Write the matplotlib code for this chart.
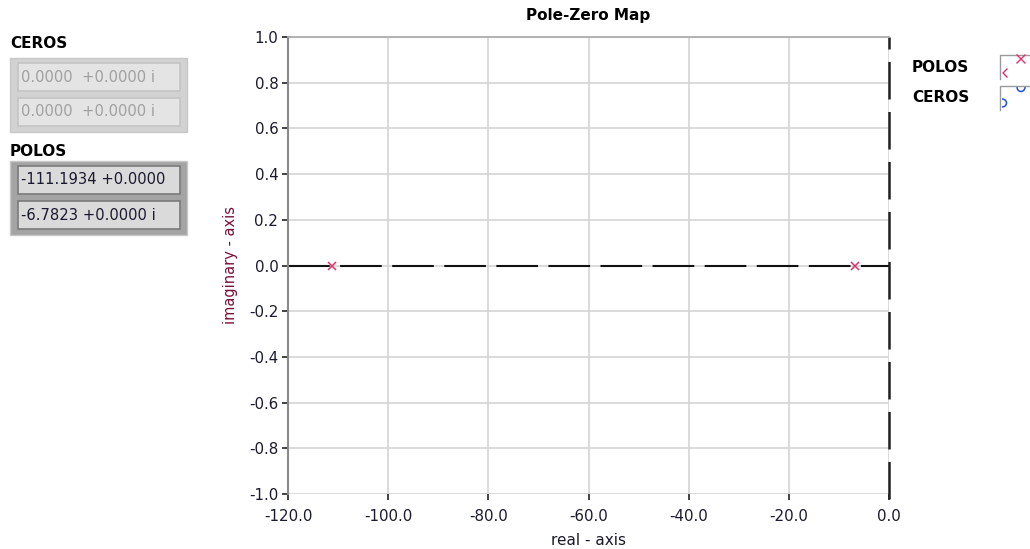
import matplotlib
matplotlib.use("Agg")
import matplotlib.pyplot as plt
from matplotlib.patches import Rectangle, Arc

# Pole / zero data
pole_real = [-111.1934, -6.7823]
pole_imag = [0.0, 0.0]
zero_real = []
zero_imag = []

pole_text = ["-111.1934 +0.0000", "-6.7823 +0.0000 i"]
zero_text = ["0.0000  +0.0000 i", "0.0000  +0.0000 i"]

x_ticks = [-120, -100, -80, -60, -40, -20, 0]
y_ticks = [-1.0, -0.8, -0.6, -0.4, -0.2, 0.0, 0.2, 0.4, 0.6, 0.8, 1.0]

W, H = 1030, 549
plt.rcParams["font.family"] = ["DejaVu Sans"]
fig = plt.figure(figsize=(W / 100, H / 100), dpi=100)
fig.patch.set_facecolor("white")


def fx(px):
    return px / W


def fy(py):
    return 1 - py / H


ax = fig.add_axes([fx(288), fy(494), fx(889) - fx(288), fy(37) - fy(494)])
ax.set_xlim(-120, 0)
ax.set_ylim(-1, 1)
ax.set_xticks(x_ticks)
ax.set_yticks(y_ticks)
ax.set_xticklabels([f"{v:.1f}" for v in x_ticks])
ax.set_yticklabels([f"{v:.1f}" for v in y_ticks])
ax.grid(True, color="#d4d4d4", linewidth=1.2)
ax.set_axisbelow(True)
for s in ["right", "bottom"]:
    ax.spines[s].set_visible(False)
ax.spines["top"].set_color("#a8a8a8")
ax.spines["top"].set_linewidth(1.2)
ax.spines["left"].set_color("#8a8a8a")
ax.spines["left"].set_linewidth(1.5)
ax.tick_params(axis="both", direction="out", length=4, width=1.3, color="#333333",
               labelsize=10.8, labelcolor="#1a1a2e")
ax.tick_params(axis="x", pad=7)
ax.tick_params(axis="y", pad=3)

# Reference axes through the origin
ax.axhline(0, color="#111111", linewidth=1.5, dashes=(20, 5), zorder=2)
ax.axvline(0, color="#222222", linewidth=1.8, dashes=(15, 5), zorder=2, clip_on=False,
           ymin=-0.012, ymax=1.0)

ax.plot(pole_real, pole_imag, linestyle="none", marker="x", markersize=6,
        markeredgewidth=1.1, color="#e0336e", zorder=3)
if zero_real:
    ax.plot(zero_real, zero_imag, linestyle="none", marker="o", markersize=6,
            markerfacecolor="none", color="#2050e0", zorder=3)

ax.set_title("Pole-Zero Map", fontsize=11, fontweight="bold", pad=12)
ax.set_xlabel("real - axis", fontsize=11, color="#1a1a2e", labelpad=6)
ax.set_ylabel("imaginary - axis", fontsize=10.5, color="#7a1030", labelpad=8)

# Pixel-space overlay for the panel decorations
ov = fig.add_axes([0, 0, 1, 1], facecolor="none")
ov.set_xlim(0, W)
ov.set_ylim(H, 0)
ov.axis("off")


def indicator(title, ytitle, y0, values, frame, field, txtcol, inner_edge):
    ov.text(10, ytitle, title, fontsize=11, fontweight="bold", va="center", ha="left")
    h = 4 + len(values) * 35
    ov.add_patch(Rectangle((10, y0), 177, h, facecolor=frame,
                           edgecolor="#c8c8c8", linewidth=1))
    for i, v in enumerate(values):
        top = y0 + 5 + i * 35
        ov.add_patch(Rectangle((18, top), 162, 28, facecolor=field,
                               edgecolor=inner_edge, linewidth=1.2))
        ov.text(21, top + 14, v, fontsize=10.6, color=txtcol, va="center", ha="left")


indicator("CEROS", 43, 58, zero_text, "#d2d2d2", "#e4e4e4", "#a0a0a0", "#c4c4c4")
indicator("POLOS", 151, 161, pole_text, "#a4a4a4", "#dadada", "#1a1a2e", "#7a7a7a")

# Plot legend on the right
ov.text(912, 67, "POLOS", fontsize=11, fontweight="bold", va="center")
ov.text(912, 98, "CEROS", fontsize=11, fontweight="bold", va="center")
for top in (55, 86):
    ov.plot([1000, 1000, 1030], [top + 24, top, top], color="#9a9a9a", lw=1)
pc = "#e0336e"
ov.plot([1017, 1021, 1025], [55, 59, 55], color=pc, lw=1)
ov.plot([1017, 1021, 1025], [63, 59, 63], color=pc, lw=1)
ov.plot([1007, 1003, 1007], [69, 73, 77], color=pc, lw=1)
zc = "#2050e0"
ov.add_patch(Arc((1021, 87), 8, 9, theta1=0, theta2=180, color=zc, lw=1.1))
ov.add_patch(Arc((1002, 103), 9, 8, theta1=-90, theta2=90, color=zc, lw=1.1))

fig.savefig("out.png", dpi=100, facecolor="white")
